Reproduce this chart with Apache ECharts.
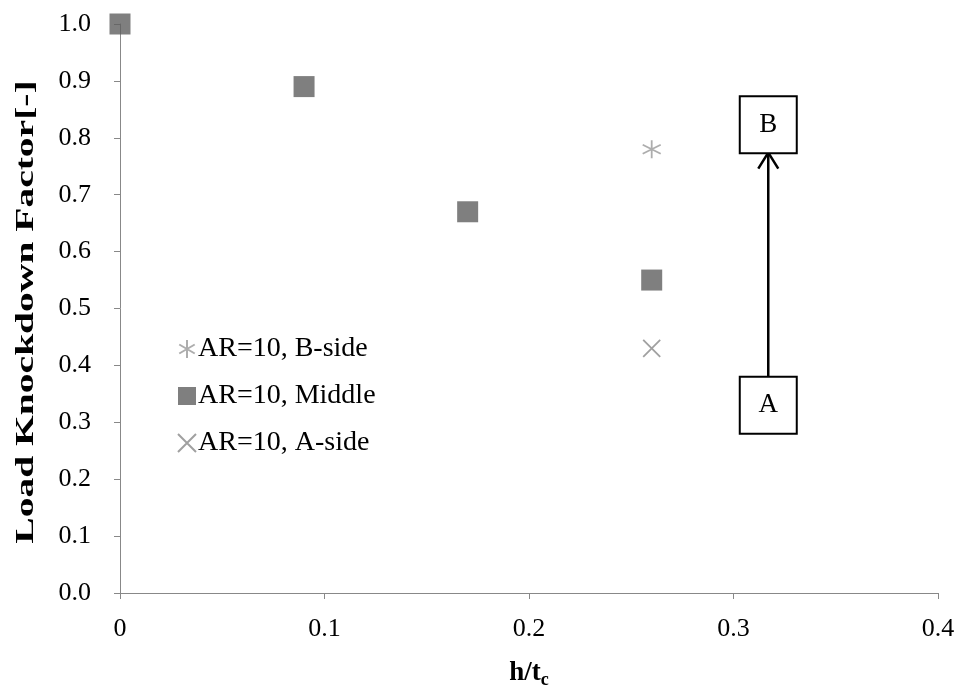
<!DOCTYPE html>
<html>
<head>
<meta charset="utf-8">
<script src="https://cdn.jsdelivr.net/npm/echarts@6/dist/echarts.min.js"></script>
<style>
  html, body { margin: 0; padding: 0; background: #fff; }
  #main { width: 961px; height: 694px; }
</style>
</head>
<body>
<div id="main"></div>
<script>
// data
var bSideX = [0.26];
var bSideY = [0.78];
var middleX = [0, 0.09, 0.17, 0.26];
var middleY = [1.0, 0.89, 0.67, 0.55];
var aSideX = [0.26];
var aSideY = [0.43];
var seriesNames = ['AR=10, B-side', 'AR=10, Middle', 'AR=10, A-side'];
var yTitle = 'Load Knockdown Factor[-]';

// annotation: arrow from box A up to box B
var arrowX = 0.317;
var boxAY = 0.33;
var boxBY = 0.823;
var arrowFromY = 0.38;
var arrowToY = 0.774;

var FONT = '"Liberation Serif", "Times New Roman", serif';

function pairs(xs, ys) {
	var out = [];
	for (var i = 0; i < xs.length; i++) out.push([xs[i], ys[i]]);
	return out;
}

var starPath = 'path://M5,0 L5,10 M0.7,2.5 L9.3,7.5 M0.7,7.5 L9.3,2.5';
var crossPath = 'path://M0,0 L10,10 M0,10 L10,0';

var myChart = echarts.init(document.getElementById('main'));
myChart.setOption({
	backgroundColor: '#fff',
	animation: false,
	grid: { left: 120, right: 23, top: 24, bottom: 100 },
	legend: {
		orient: 'vertical',
		left: 172,
		top: 330,
		itemGap: 19,
		itemWidth: 18,
		itemHeight: 18,
		textStyle: { fontFamily: FONT, fontSize: 28, color: '#000', padding: [0, 0, 0, -3] },
		data: seriesNames
	},
	xAxis: {
		type: 'value',
		min: 0,
		max: 0.4,
		interval: 0.1,
		name: '{b|h/t}{s|c}',
		nameLocation: 'middle',
		nameGap: 64,
		nameTextStyle: {
			rich: {
				b: { fontFamily: FONT, fontSize: 27, fontWeight: 'bold', color: '#000' },
				s: { fontFamily: FONT, fontSize: 18, fontWeight: 'bold', color: '#000', padding: [14, 0, 0, 0] }
			}
		},
		axisLine: { lineStyle: { color: '#888' } },
		axisTick: { show: true, length: 6, lineStyle: { color: '#888' } },
		axisLabel: {
			fontFamily: FONT, fontSize: 26, color: '#000', margin: 23,
			formatter: function (v) { return v === 0 ? '0' : v.toFixed(1); }
		},
		splitLine: { show: false }
	},
	yAxis: {
		type: 'value',
		min: 0,
		max: 1,
		interval: 0.1,
		axisLine: { show: true, lineStyle: { color: '#888' } },
		axisTick: { show: true, length: 6, lineStyle: { color: '#888' } },
		axisLabel: {
			fontFamily: FONT, fontSize: 26, color: '#000', margin: 29,
			formatter: function (v) { return v.toFixed(1); }
		},
		splitLine: { show: false }
	},
	series: [
		{
			name: seriesNames[0],
			type: 'scatter',
			symbol: starPath,
			symbolSize: 18,
			itemStyle: { color: 'rgba(0,0,0,0)', borderColor: '#999', borderWidth: 1.8 },
			data: pairs(bSideX, bSideY)
		},
		{
			name: seriesNames[1],
			type: 'scatter',
			symbol: 'rect',
			symbolSize: 21,
			itemStyle: { color: '#5f5f5f' },
			data: pairs(middleX, middleY)
		},
		{
			name: seriesNames[2],
			type: 'scatter',
			symbol: crossPath,
			symbolSize: 17,
			itemStyle: { color: 'rgba(0,0,0,0)', borderColor: '#888', borderWidth: 1.8 },
			data: pairs(aSideX, aSideY)
		}
	]
});

// annotation boxes + arrow, placed through the chart's own scales
function drawAnnotation() {
	var pA = myChart.convertToPixel({ gridIndex: 0 }, [arrowX, boxAY]);
	var pB = myChart.convertToPixel({ gridIndex: 0 }, [arrowX, boxBY]);
	var pFrom = myChart.convertToPixel({ gridIndex: 0 }, [arrowX, arrowFromY]);
	var pTo = myChart.convertToPixel({ gridIndex: 0 }, [arrowX, arrowToY]);
	var box = 57;
	function boxEl(p, txt) {
		return {
			type: 'group',
			children: [
				{
					type: 'rect',
					shape: { x: p[0] - box / 2, y: p[1] - box / 2, width: box, height: box },
					style: { fill: '#fff', stroke: '#000', lineWidth: 2 }
				},
				{
					type: 'text',
					x: p[0], y: p[1],
					style: { text: txt, fontFamily: FONT, fontSize: 27, fill: '#000', align: 'center', verticalAlign: 'middle' }
				}
			]
		};
	}
	myChart.setOption({
		graphic: [
			// y-axis title, stretched along its length like the original
			{
				type: 'text',
				x: 26, y: 312,
				rotation: Math.PI / 2,
				scaleX: 1.52,
				style: { text: yTitle, fontFamily: FONT, fontSize: 26, fontWeight: 'bold', fill: '#000', align: 'center', verticalAlign: 'middle' }
			},
			{
				type: 'line',
				shape: { x1: pFrom[0], y1: pFrom[1], x2: pTo[0], y2: pTo[1] },
				style: { stroke: '#000', lineWidth: 2.5 }
			},
			{
				type: 'polyline',
				shape: { points: [[pTo[0] - 10, pTo[1] + 16], [pTo[0], pTo[1]], [pTo[0] + 10, pTo[1] + 16]] },
				style: { stroke: '#000', lineWidth: 2.5, fill: null }
			},
			boxEl(pA, 'A'),
			boxEl(pB, 'B')
		]
	});
}
drawAnnotation();
</script>
</body>
</html>
